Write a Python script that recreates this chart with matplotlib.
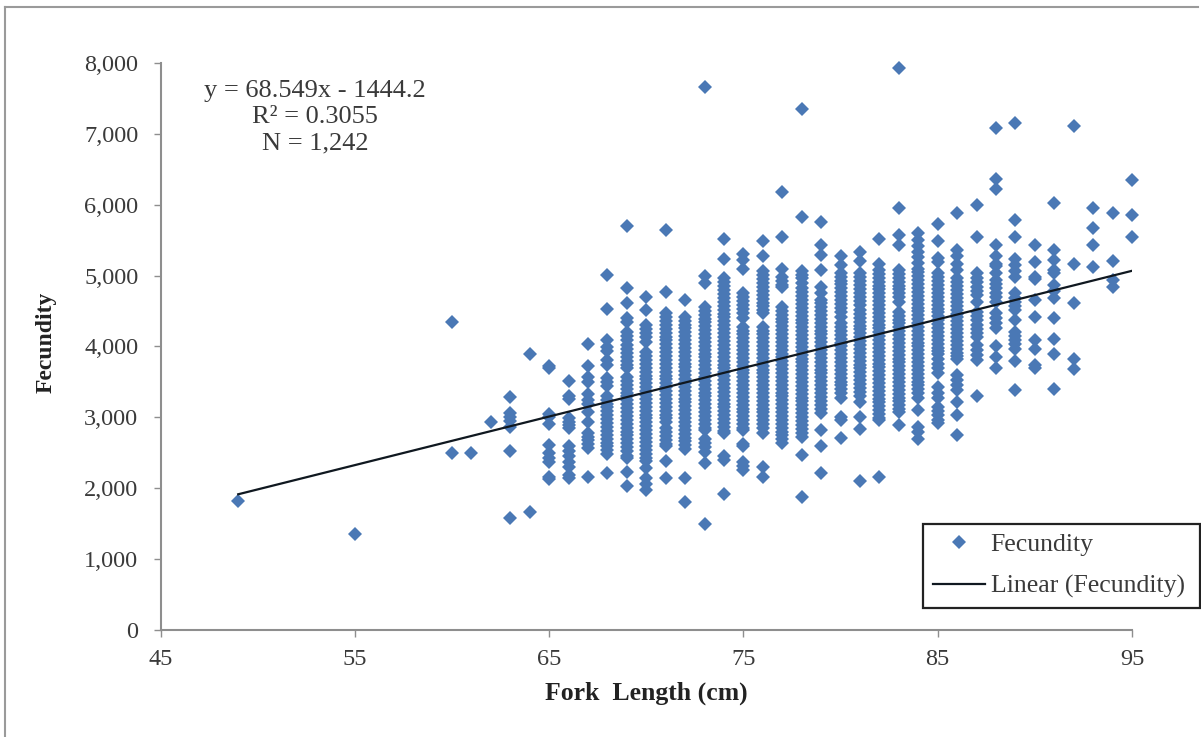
import matplotlib
import matplotlib.pyplot as plt
from matplotlib.lines import Line2D
from matplotlib.ticker import StrMethodFormatter

matplotlib.use("Agg")

# Fecundity values, one list per fork length (cm)
fec_49 = [1815]
fec_55 = [1350]
fec_60 = [4350, 2500]
fec_61 = [2500]
fec_62 = [2935]
fec_63 = [3290, 3060, 3000, 2950, 2860, 2520, 1585]
fec_64 = [3900, 1670]
fec_65 = [3730, 3690, 3050, 3000, 2900, 2610, 2500, 2430, 2375, 2160, 2130]
fec_66 = [3510, 3300, 3260, 2990, 2940, 2890, 2850, 2590, 2520, 2450, 2370, 2300, 2190, 2150]
fec_67 = [4030, 3720, 3570, 3500, 3330, 3250, 3190, 3080, 2940, 2780, 2730, 2680, 2630,
          2570, 2160]
fec_68 = [5010, 4530, 4090, 3990, 3930, 3810, 3740, 3560, 3500, 3440, 3300, 3250, 3195,
          3140, 3085, 3030, 2975, 2920, 2865, 2810, 2755, 2700, 2645, 2590, 2535, 2480, 2210]
fec_69 = [5700, 4820, 4620, 4400, 4340, 4210, 4150, 4090, 4020, 3965, 3910, 3855, 3800,
          3745, 3690, 3570, 3515, 3460, 3405, 3350, 3295, 3240, 3185, 3130, 3075, 3020,
          2965, 2910, 2855, 2800, 2745, 2690, 2635, 2580, 2525, 2460, 2420, 2230, 2030]
fec_70 = [4700, 4520, 4300, 4245, 4190, 4130, 4070, 3920, 3865, 3810, 3755, 3700, 3645,
          3590, 3535, 3480, 3425, 3370, 3315, 3260, 3205, 3150, 3095, 3040, 2985, 2930,
          2875, 2820, 2765, 2710, 2655, 2600, 2545, 2490, 2430, 2380, 2280, 2140, 2060, 1970]
fec_71 = [5640, 4770, 4470, 4415, 4360, 4305, 4250, 4195, 4140, 4085, 4030, 3975, 3920,
          3865, 3810, 3755, 3700, 3645, 3590, 3535, 3480, 3425, 3370, 3315, 3260, 3205,
          3150, 3095, 3040, 2985, 2930, 2845, 2790, 2735, 2680, 2625, 2590, 2390, 2140]
fec_72 = [4650, 4420, 4365, 4310, 4255, 4200, 4145, 4090, 4035, 3980, 3925, 3870, 3815,
          3760, 3705, 3650, 3595, 3540, 3485, 3430, 3375, 3320, 3265, 3210, 3155, 3100,
          3045, 2990, 2935, 2880, 2825, 2770, 2715, 2660, 2605, 2550, 2140, 1810]
fec_73 = [7660, 5000, 4900, 4560, 4505, 4450, 4395, 4340, 4285, 4230, 4175, 4120, 4065,
          4010, 3955, 3900, 3845, 3790, 3735, 3680, 3625, 3570, 3515, 3460, 3405, 3350,
          3295, 3240, 3185, 3130, 3075, 3020, 2965, 2910, 2855, 2820, 2700, 2640, 2580,
          2510, 2360, 1490]
fec_74 = [5520, 5240, 4960, 4905, 4850, 4795, 4740, 4685, 4630, 4575, 4520, 4465, 4410,
          4355, 4300, 4240, 4185, 4130, 4075, 4020, 3965, 3910, 3855, 3800, 3745, 3690,
          3635, 3580, 3525, 3470, 3415, 3360, 3305, 3250, 3195, 3140, 3085, 3030, 2975,
          2920, 2865, 2810, 2780, 2450, 2400, 1920]
fec_75 = [5300, 5220, 5100, 4750, 4695, 4640, 4585, 4530, 4475, 4400, 4280, 4225, 4170,
          4115, 4060, 4005, 3950, 3895, 3840, 3785, 3730, 3675, 3620, 3565, 3510, 3455,
          3400, 3345, 3290, 3235, 3180, 3125, 3070, 3015, 2960, 2905, 2850, 2820, 2620,
          2590, 2370, 2310, 2260]
fec_76 = [5490, 5280, 5060, 5005, 4950, 4895, 4840, 4785, 4730, 4675, 4620, 4565, 4510,
          4470, 4280, 4225, 4170, 4115, 4060, 4005, 3950, 3895, 3840, 3785, 3730, 3675,
          3620, 3565, 3510, 3455, 3400, 3345, 3290, 3235, 3180, 3125, 3070, 3015, 2960,
          2905, 2850, 2775, 2300, 2160]
fec_77 = [6180, 5540, 5100, 4980, 4925, 4870, 4840, 4560, 4505, 4450, 4395, 4340, 4285,
          4230, 4175, 4120, 4065, 4010, 3955, 3900, 3845, 3790, 3735, 3680, 3625, 3570,
          3515, 3460, 3405, 3350, 3295, 3240, 3185, 3130, 3075, 3020, 2965, 2910, 2855,
          2800, 2745, 2690, 2640]
fec_78 = [7350, 5830, 5070, 5015, 4960, 4890, 4820, 4765, 4710, 4655, 4600, 4545, 4490,
          4435, 4380, 4325, 4270, 4215, 4160, 4105, 4050, 3995, 3940, 3885, 3830, 3775,
          3720, 3665, 3610, 3555, 3500, 3445, 3390, 3335, 3280, 3225, 3170, 3115, 3060,
          3005, 2950, 2895, 2840, 2785, 2730, 2470, 1880]
fec_79 = [5760, 5430, 5290, 5080, 4840, 4750, 4660, 4610, 4555, 4500, 4445, 4390, 4335,
          4280, 4225, 4170, 4115, 4060, 4005, 3950, 3895, 3840, 3785, 3730, 3675, 3620,
          3565, 3510, 3455, 3400, 3345, 3290, 3235, 3180, 3125, 3060, 2820, 2600, 2220]
fec_80 = [5270, 5150, 5040, 4985, 4930, 4875, 4820, 4765, 4710, 4655, 4600, 4545, 4490,
          4420, 4330, 4275, 4220, 4165, 4110, 4055, 4000, 3945, 3890, 3835, 3780, 3725,
          3670, 3615, 3560, 3505, 3450, 3395, 3340, 3270, 3010, 2960, 2710]
fec_81 = [5340, 5200, 5030, 4975, 4920, 4865, 4810, 4755, 4700, 4645, 4590, 4515, 4460,
          4405, 4350, 4295, 4240, 4185, 4130, 4075, 4020, 3965, 3910, 3855, 3800, 3745,
          3690, 3635, 3580, 3525, 3470, 3415, 3360, 3305, 3220, 3010, 2830, 2100]
fec_82 = [5520, 5170, 5080, 5025, 4970, 4915, 4860, 4805, 4750, 4695, 4640, 4585, 4530,
          4475, 4420, 4365, 4310, 4255, 4200, 4145, 4090, 4035, 3980, 3925, 3870, 3815,
          3760, 3705, 3650, 3595, 3540, 3485, 3430, 3375, 3320, 3265, 3210, 3155, 3100,
          3045, 2990, 2960, 2160]
fec_83 = [7925, 5950, 5570, 5430, 5080, 5025, 4970, 4915, 4860, 4805, 4750, 4695, 4630,
          4490, 4435, 4380, 4325, 4270, 4215, 4160, 4105, 4050, 3995, 3940, 3885, 3830,
          3775, 3720, 3665, 3610, 3555, 3500, 3445, 3390, 3335, 3280, 3225, 3170, 3115,
          3080, 2890]
fec_84 = [5600, 5500, 5420, 5340, 5260, 5180, 5100, 5045, 4990, 4935, 4880, 4825, 4770,
          4715, 4660, 4605, 4550, 4495, 4440, 4385, 4330, 4275, 4220, 4165, 4110, 4055,
          4000, 3945, 3890, 3835, 3780, 3725, 3670, 3615, 3560, 3505, 3450, 3395, 3340,
          3270, 3100, 2870, 2790, 2700]
fec_85 = [5730, 5490, 5250, 5190, 5030, 4975, 4920, 4865, 4810, 4755, 4700, 4645, 4590,
          4535, 4480, 4425, 4370, 4315, 4260, 4205, 4150, 4095, 4040, 3985, 3930, 3900,
          3830, 3760, 3690, 3620, 3430, 3350, 3270, 3150, 3090, 3030, 2970, 2920]
fec_86 = [5880, 5360, 5270, 5170, 5080, 4960, 4905, 4850, 4795, 4740, 4685, 4630, 4575,
          4520, 4465, 4410, 4355, 4300, 4245, 4190, 4135, 4080, 4025, 3970, 3915, 3860,
          3830, 3600, 3530, 3460, 3390, 3220, 3030, 2750]
fec_87 = [5990, 5540, 5030, 4970, 4905, 4845, 4785, 4730, 4630, 4490, 4430, 4370, 4310,
          4250, 4190, 4140, 4020, 3950, 3880, 3810, 3300]
fec_88 = [7080, 6360, 6220, 5430, 5270, 5170, 5130, 5030, 4940, 4880, 4820, 4760, 4700,
          4630, 4470, 4400, 4330, 4260, 4010, 3850, 3690]
fec_89 = [7160, 5790, 5550, 5240, 5150, 5060, 4985, 4750, 4690, 4630, 4570, 4515, 4370,
          4210, 4150, 4090, 4030, 3970, 3790, 3390]
fec_90 = [5430, 5190, 4985, 4950, 4660, 4420, 4090, 3970, 3740, 3690]
fec_91 = [6030, 5360, 5220, 5080, 5030, 4870, 4790, 4680, 4400, 4100, 3900, 3400]
fec_92 = [7110, 5170, 4610, 3830, 3680]
fec_93 = [5960, 5670, 5430, 5120]
fec_94 = [5880, 5200, 4940, 4840]
fec_95 = [6350, 5860, 5540]

fork_lengths = [49, 55, 60, 61, 62, 63, 64, 65, 66, 67, 68, 69, 70, 71, 72, 73, 74, 75,
                76, 77, 78, 79, 80, 81, 82, 83, 84, 85, 86, 87, 88, 89, 90, 91, 92, 93, 94, 95]
fec_columns = [fec_49, fec_55, fec_60, fec_61, fec_62, fec_63, fec_64, fec_65, fec_66,
               fec_67, fec_68, fec_69, fec_70, fec_71, fec_72, fec_73, fec_74, fec_75,
               fec_76, fec_77, fec_78, fec_79, fec_80, fec_81, fec_82, fec_83, fec_84,
               fec_85, fec_86, fec_87, fec_88, fec_89, fec_90, fec_91, fec_92, fec_93,
               fec_94, fec_95]

# Trend line end points
fit_x = [49, 95]
fit_y = [1915, 5068]

x_ticks = [45, 55, 65, 75, 85, 95]
y_ticks = [0, 1000, 2000, 3000, 4000, 5000, 6000, 7000, 8000]

W, H = 1201, 737
plt.rcParams["font.family"] = "Liberation Serif"

fig = plt.figure(figsize=(W / 100, H / 100), dpi=100)
ax = fig.add_axes([160.5 / W, (H - 630) / H, 971.5 / W, 567 / H])

xs = []
ys = []
for fork, col in zip(fork_lengths, fec_columns):
    for val in col:
        xs.append(fork)
        ys.append(val)

ax.plot(xs, ys, linestyle="none", marker="D", markersize=7.2, color="#4A78B5",
        markeredgewidth=0, label="Fecundity", clip_on=False)
ax.plot(fit_x, fit_y, color="#101820", linewidth=1.6, label="Linear (Fecundity)")

ax.set_xlim(45, 95)
ax.set_ylim(0, 8000)
ax.set_xticks(x_ticks)
ax.set_yticks(y_ticks)
ax.yaxis.set_major_formatter(StrMethodFormatter("{x:,.0f}"))

for side in ["top", "right"]:
    ax.spines[side].set_visible(False)
for side in ["left", "bottom"]:
    ax.spines[side].set_color("#8E8E8E")
    ax.spines[side].set_linewidth(1.5)
ax.tick_params(axis="both", color="#8E8E8E", width=1, length=5, labelsize=17.5,
               labelcolor="#3A3A3A")
ax.tick_params(axis="y", pad=11)
ax.tick_params(axis="x", pad=9)

ax.set_xlabel("Fork  Length (cm)", fontsize=18.5, fontweight="bold", color="#222222", va="center")
ax.xaxis.set_label_coords((646 - 160.5) / 971.5, -(693 - 630) / 567)
ax.set_ylabel("Fecundity", fontsize=17, fontweight="bold", color="#222222", va="center")
ax.yaxis.set_label_coords((46 - 160.5) / 971.5, (630 - 342) / 567)

ax.text(52.95, 7605, "y = 68.549x - 1444.2", fontsize=19, color="#3A3A3A", ha="center", va="center")
ax.text(52.95, 7245, "R² = 0.3055", fontsize=19, color="#3A3A3A", ha="center", va="center")
ax.text(52.95, 6860, "N = 1,242", fontsize=19, color="#3A3A3A", ha="center", va="center")

leg = ax.legend(loc="lower left", bbox_to_anchor=(923 / W, (H - 608) / H, 277 / W, 87 / H),
                bbox_transform=fig.transFigure, mode="expand", borderaxespad=0, fontsize=18.5,
                fancybox=False, framealpha=1, edgecolor="#222222", labelspacing=0.72,
                handlelength=2.05, handletextpad=0.2, borderpad=0.38, labelcolor="#3A3A3A",
                numpoints=1)
leg.get_frame().set_linewidth(1.6)

# outer chart frame, only left and top edges survive in the picture
fig.add_artist(Line2D([5 / W, 5 / W], [0, (H - 7) / H], color="#9A9A9A", linewidth=1.5))
fig.add_artist(Line2D([5 / W, 1198 / W], [(H - 7) / H, (H - 7) / H], color="#9A9A9A", linewidth=1.5))

fig.savefig("out.png", dpi=100)
